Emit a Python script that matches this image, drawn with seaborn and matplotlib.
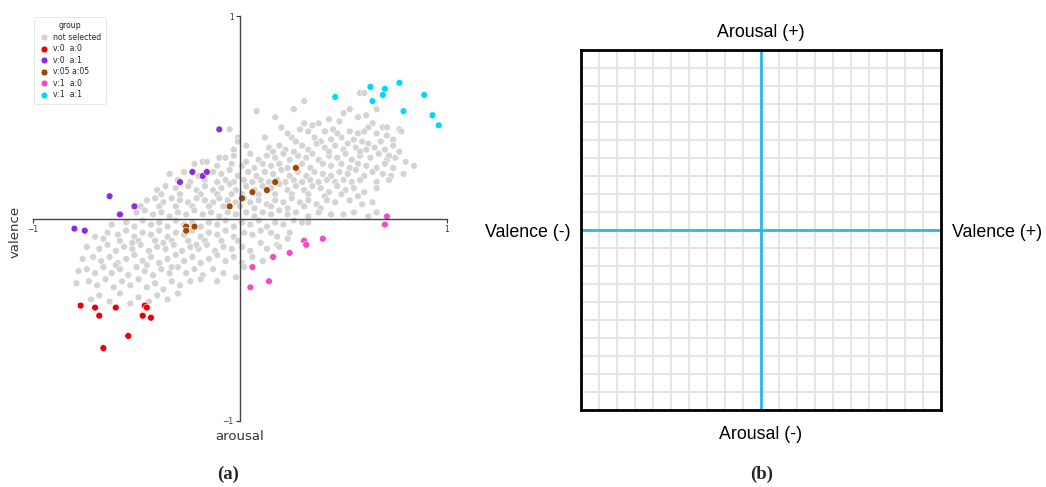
import matplotlib
matplotlib.use("Agg")
import matplotlib.pyplot as plt
import seaborn as sns
import pandas as pd

# (arousal, valence) pairs for each group
not_selected_high = [
    (0.58, 0.62), (0.60, 0.62), (0.31, 0.58), (0.26, 0.54), (0.08, 0.53), (0.53, 0.54),
    (0.66, 0.54), (0.50, 0.52), (0.57, 0.50), (0.61, 0.51), (0.17, 0.50), (0.43, 0.49),
    (0.20, 0.45), (0.31, 0.47), (0.35, 0.46), (0.38, 0.47), (0.48, 0.48), (0.64, 0.47),
    (0.69, 0.45), (0.71, 0.45), (0.62, 0.45), (0.77, 0.44), (0.78, 0.43), (-0.05, 0.44),
    (-0.01, 0.40), (0.29, 0.44), (0.33, 0.43), (0.41, 0.43), (0.45, 0.44), (0.53, 0.43),
    (0.57, 0.42), (0.66, 0.42), (0.71, 0.41), (0.74, 0.39), (0.12, 0.40), (0.25, 0.40),
    (0.27, 0.38), (0.36, 0.40), (0.39, 0.38), (0.44, 0.39), (0.49, 0.40), (0.52, 0.37),
    (0.55, 0.39), (0.59, 0.38), (0.62, 0.37), (0.68, 0.38), (0.03, 0.36), (0.14, 0.35),
    (0.19, 0.36), (0.22, 0.34), (0.30, 0.36), (0.33, 0.34), (0.41, 0.35), (0.46, 0.36),
    (0.50, 0.34), (0.56, 0.35), (0.61, 0.34), (0.65, 0.35), (0.70, 0.34), (0.74, 0.36),
    (0.77, 0.33), (-0.03, 0.34), (-0.01, 0.38), (-0.18, 0.28), (-0.10, 0.30),
    (-0.07, 0.30), (-0.03, 0.31), (0.05, 0.32), (0.09, 0.29), (0.13, 0.31), (0.17, 0.30),
    (0.21, 0.32), (0.24, 0.29), (0.28, 0.31), (0.32, 0.30), (0.35, 0.32), (0.38, 0.29),
    (0.43, 0.31), (0.47, 0.30), (0.51, 0.32), (0.54, 0.29), (0.58, 0.31), (0.63, 0.30),
    (0.67, 0.32), (0.71, 0.29), (0.75, 0.30), (0.80, 0.28), (-0.22, 0.27), (-0.16, 0.28),
    (-0.11, 0.26), (-0.04, 0.27), (0.01, 0.26), (0.03, 0.28), (0.07, 0.25), (0.11, 0.27),
    (0.15, 0.26), (0.19, 0.27), (0.23, 0.25), (0.30, 0.27), (0.34, 0.25), (0.40, 0.27),
    (0.44, 0.26), (0.49, 0.27), (0.53, 0.25), (0.57, 0.27), (0.61, 0.26), (0.66, 0.25),
    (0.70, 0.27), (0.74, 0.25), (0.84, 0.26), (0.23, 0.42), (0.47, 0.42), (0.60, 0.43),
    (0.37, 0.37), (0.16, 0.33), (0.26, 0.33), (0.43, 0.33), (0.58, 0.33), (0.72, 0.31),
]
not_selected_mid = [
    (-0.34, 0.22), (-0.27, 0.23), (-0.20, 0.21), (-0.13, 0.23), (-0.09, 0.22), (-0.05, 0.24),
    (-0.01, 0.21), (0.04, 0.23), (0.08, 0.21), (0.12, 0.23), (0.16, 0.22), (0.20, 0.24),
    (0.24, 0.21), (0.28, 0.23), (0.32, 0.21), (0.36, 0.23), (0.40, 0.22), (0.44, 0.21),
    (0.48, 0.23), (0.52, 0.22), (0.56, 0.24), (0.60, 0.21), (0.64, 0.23), (0.69, 0.22),
    (0.73, 0.21), (0.79, 0.22), (-0.30, 0.19), (-0.24, 0.18), (-0.17, 0.19), (-0.11, 0.18),
    (-0.07, 0.19), (-0.03, 0.18), (0.02, 0.19), (0.06, 0.18), (0.10, 0.19), (0.14, 0.18),
    (0.18, 0.19), (0.22, 0.18), (0.26, 0.19), (0.30, 0.18), (0.34, 0.19), (0.38, 0.18),
    (0.42, 0.19), (0.46, 0.18), (0.50, 0.19), (0.54, 0.18), (0.58, 0.19), (0.66, 0.18),
    (0.72, 0.19), (-0.40, 0.14), (-0.36, 0.16), (-0.31, 0.15), (-0.25, 0.16), (-0.21, 0.14),
    (-0.17, 0.16), (-0.13, 0.14), (-0.09, 0.15), (-0.05, 0.17), (-0.02, 0.14), (0.03, 0.16),
    (0.07, 0.14), (0.11, 0.16), (0.15, 0.15), (0.19, 0.17), (0.23, 0.14), (0.27, 0.16),
    (0.31, 0.14), (0.35, 0.16), (0.39, 0.15), (0.43, 0.13), (0.47, 0.16), (0.51, 0.14),
    (0.55, 0.15), (0.60, 0.13), (0.66, 0.15), (-0.38, 0.12), (-0.29, 0.12), (-0.19, 0.12),
    (-0.11, 0.12), (-0.04, 0.12), (0.01, 0.12), (0.09, 0.12), (0.17, 0.12), (0.25, 0.12),
    (0.33, 0.12), (0.41, 0.11), (0.49, 0.12), (0.57, 0.11), (-0.45, 0.09), (-0.41, 0.10),
    (-0.37, 0.08), (-0.33, 0.10), (-0.29, 0.09), (-0.25, 0.08), (-0.21, 0.10), (-0.17, 0.09),
    (-0.13, 0.08), (-0.10, 0.10), (-0.06, 0.09), (-0.02, 0.08), (0.02, 0.10), (0.05, 0.08),
    (0.09, 0.09), (0.13, 0.07), (0.17, 0.09), (0.21, 0.08), (0.25, 0.10), (0.29, 0.08),
    (0.33, 0.09), (0.37, 0.07), (0.42, 0.09), (0.46, 0.08), (0.53, 0.09), (0.59, 0.07),
    (0.64, 0.08), (-0.48, 0.06), (-0.39, 0.06), (-0.31, 0.06), (-0.23, 0.06), (-0.15, 0.06),
    (-0.08, 0.06), (0.00, 0.06), (0.07, 0.05), (0.15, 0.06), (0.23, 0.05), (0.31, 0.06),
    (0.39, 0.05), (-0.58, 0.02), (-0.50, 0.03), (-0.46, 0.04), (-0.42, 0.02), (-0.38, 0.03),
    (-0.34, 0.01), (-0.30, 0.03), (-0.26, 0.02), (-0.22, 0.04), (-0.18, 0.02), (-0.14, 0.03),
    (-0.10, 0.01), (-0.06, 0.03), (-0.02, 0.02), (0.03, 0.03), (0.07, 0.01), (0.11, 0.03),
    (0.15, 0.02), (0.19, 0.04), (0.23, 0.02), (0.27, 0.03), (0.33, 0.01), (0.38, 0.03),
    (0.44, 0.02), (0.50, 0.02), (0.55, 0.03), (0.62, 0.01), (0.66, 0.03),
]
not_selected_low = [
    (-0.62, -0.03), (-0.55, -0.02), (-0.51, -0.04), (-0.47, -0.01), (-0.43, -0.03),
    (-0.39, -0.02), (-0.35, -0.04), (-0.31, -0.01), (-0.27, -0.03), (-0.23, -0.02),
    (-0.19, -0.04), (-0.15, -0.02), (-0.11, -0.03), (-0.07, -0.01), (-0.03, -0.04),
    (0.01, -0.02), (0.05, -0.03), (0.09, -0.01), (0.13, -0.04), (0.17, -0.02), (0.21, -0.03),
    (0.26, -0.01), (0.30, -0.02), (0.33, -0.02), (-0.70, -0.09), (-0.64, -0.07),
    (-0.59, -0.08), (-0.55, -0.06), (-0.51, -0.09), (-0.47, -0.07), (-0.43, -0.08),
    (-0.39, -0.06), (-0.35, -0.09), (-0.31, -0.07), (-0.27, -0.08), (-0.23, -0.06),
    (-0.19, -0.09), (-0.15, -0.07), (-0.11, -0.08), (-0.07, -0.06), (-0.03, -0.09),
    (0.02, -0.07), (0.06, -0.08), (0.10, -0.06), (0.15, -0.07), (0.18, -0.09), (0.24, -0.07),
    (-0.66, -0.10), (-0.58, -0.11), (-0.49, -0.11), (-0.41, -0.11), (-0.33, -0.11),
    (-0.25, -0.11), (-0.17, -0.11), (-0.09, -0.11), (-0.01, -0.11), (0.10, -0.12),
    (0.18, -0.13), (0.23, -0.10), (-0.74, -0.14), (-0.68, -0.15), (-0.64, -0.13),
    (-0.60, -0.16), (-0.56, -0.14), (-0.52, -0.15), (-0.48, -0.13), (-0.44, -0.16),
    (-0.40, -0.14), (-0.36, -0.15), (-0.32, -0.13), (-0.28, -0.16), (-0.24, -0.14),
    (-0.20, -0.15), (-0.16, -0.13), (-0.12, -0.16), (-0.08, -0.14), (-0.04, -0.15),
    (0.01, -0.14), (0.05, -0.16), (0.13, -0.15), (0.19, -0.14), (-0.76, -0.20),
    (-0.71, -0.19), (-0.67, -0.21), (-0.63, -0.19), (-0.59, -0.22), (-0.55, -0.20),
    (-0.51, -0.18), (-0.47, -0.21), (-0.43, -0.19), (-0.39, -0.22), (-0.35, -0.20),
    (-0.31, -0.18), (-0.27, -0.21), (-0.23, -0.19), (-0.19, -0.22), (-0.15, -0.20),
    (-0.11, -0.18), (-0.07, -0.21), (-0.03, -0.19), (0.01, -0.22), (0.06, -0.19),
    (0.11, -0.21), (-0.78, -0.26), (-0.74, -0.25), (-0.70, -0.27), (-0.66, -0.24),
    (-0.62, -0.27), (-0.58, -0.25), (-0.54, -0.28), (-0.50, -0.24), (-0.46, -0.26),
    (-0.42, -0.28), (-0.38, -0.25), (-0.34, -0.27), (-0.30, -0.24), (-0.26, -0.27),
    (-0.22, -0.25), (-0.18, -0.28), (-0.13, -0.25), (-0.08, -0.27), (-0.02, -0.29),
    (0.02, -0.24), (-0.79, -0.32), (-0.73, -0.31), (-0.69, -0.33), (-0.65, -0.30),
    (-0.61, -0.34), (-0.57, -0.31), (-0.53, -0.33), (-0.49, -0.30), (-0.45, -0.34),
    (-0.41, -0.32), (-0.37, -0.35), (-0.33, -0.31), (-0.29, -0.33), (-0.24, -0.31),
    (-0.19, -0.30), (-0.11, -0.31), (-0.72, -0.40), (-0.68, -0.38), (-0.63, -0.41),
    (-0.58, -0.37), (-0.53, -0.42), (-0.49, -0.39), (-0.44, -0.41), (-0.40, -0.38),
    (-0.35, -0.40), (-0.30, -0.37), (-0.60, -0.23), (-0.45, -0.23), (-0.33, -0.24),
    (-0.52, -0.12), (-0.37, -0.12), (-0.21, -0.13),
]
v0_a0 = [
    (-0.77, -0.43), (-0.70, -0.44), (-0.60, -0.44), (-0.68, -0.48), (-0.46, -0.43),
    (-0.45, -0.44), (-0.47, -0.48), (-0.43, -0.49), (-0.54, -0.58), (-0.66, -0.64),
]
v0_a1 = [
    (-0.10, 0.44), (-0.23, 0.23), (-0.18, 0.21), (-0.16, 0.23), (-0.29, 0.18),
    (-0.63, 0.11), (-0.51, 0.06), (-0.58, 0.02), (-0.80, -0.05), (-0.75, -0.06),
]
v05_a05 = [
    (0.27, 0.25), (0.17, 0.18), (0.06, 0.13), (0.13, 0.14), (0.01, 0.10),
    (-0.05, 0.06), (-0.26, -0.04), (-0.22, -0.04), (-0.26, -0.06),
]
v1_a0 = [
    (0.71, 0.01), (0.70, -0.03), (0.31, -0.11), (0.40, -0.10), (0.32, -0.13),
    (0.24, -0.17), (0.16, -0.19), (0.06, -0.24), (0.14, -0.31), (0.05, -0.34),
]
v1_a1 = [
    (0.63, 0.65), (0.70, 0.64), (0.77, 0.67), (0.89, 0.61), (0.69, 0.61),
    (0.64, 0.58), (0.46, 0.60), (0.79, 0.53), (0.93, 0.51), (0.96, 0.46),
]

group_labels = ["not selected", "v:0  a:0", "v:0  a:1", "v:05 a:05", "v:1  a:0", "v:1  a:1"]
group_colors = ["#d3d3d3", "#e8000b", "#8b2be2", "#9f4800", "#f14cc1", "#00d7ff"]

grid_divisions = 20

groups = [not_selected_high + not_selected_mid + not_selected_low,
          v0_a0, v0_a1, v05_a05, v1_a0, v1_a1]
rows = []
for label, pts in zip(group_labels, groups):
    for a, v in pts:
        rows.append({"arousal": a, "valence": v, "group": label})
df = pd.DataFrame(rows)

sns.set_style("white")
plt.rcParams["font.family"] = ["DejaVu Sans"]

W, H = 1046, 487
fig = plt.figure(figsize=(W / 100, H / 100), dpi=100)

# ---- (a) scatter of the selection groups ----
ax = fig.add_axes([33 / W, 1 - 421 / H, 414 / W, 405 / H])
sns.scatterplot(data=df, x="arousal", y="valence", hue="group",
                hue_order=group_labels, palette=dict(zip(group_labels, group_colors)),
                s=24, edgecolor="white", linewidth=0.4, ax=ax)
ax.set_xlim(-1, 1)
ax.set_ylim(-1, 1)
for side in ("top", "right"):
    ax.spines[side].set_visible(False)
for side in ("left", "bottom"):
    ax.spines[side].set_position("zero")
    ax.spines[side].set_color("#444444")
    ax.spines[side].set_linewidth(1.0)
ax.set_xticks([-1, 1])
ax.set_yticks([-1, 1])
ax.tick_params(bottom=True, left=True, length=3, width=0.8, labelsize=5.5,
               colors="#333333", pad=1.5)
ax.set_xlabel("arousal", fontsize=9.5, color="#333333")
ax.set_ylabel("valence", fontsize=9.5, color="#333333")
ax.xaxis.set_label_coords(0.5, -0.022)
ax.yaxis.set_label_coords(-0.027, 0.467)
leg = ax.legend(loc="upper left", bbox_to_anchor=(0.0, 1.0), fontsize=5.6,
                title="group", title_fontsize=5.6, frameon=True, markerscale=1.0,
                handletextpad=0.4, labelspacing=0.32, borderpad=0.55,
                handlelength=1.5, borderaxespad=0.15)
leg.get_frame().set_edgecolor("#dddddd")
leg.get_frame().set_linewidth(0.6)

# ---- (b) valence / arousal grid ----
axb = fig.add_axes([581 / W, 1 - 410 / H, 360 / W, 360 / H])
axb.set_xlim(0, grid_divisions)
axb.set_ylim(0, grid_divisions)
axb.set_xticks(range(grid_divisions + 1))
axb.set_yticks(range(grid_divisions + 1))
axb.grid(True, color="#e3e3e7", linewidth=1.3)
axb.tick_params(length=0, labelbottom=False, labelleft=False)
axb.axvline(grid_divisions / 2, color="#2cb5e6", linewidth=2)
axb.axhline(grid_divisions / 2, color="#2cb5e6", linewidth=2)
for s in axb.spines.values():
    s.set_visible(True)
    s.set_color("black")
    s.set_linewidth(2)

lab_font = dict(family=["Liberation Sans", "DejaVu Sans"], fontsize=12.8, color="black")
axb.text(0.5, 1.05, "Arousal (+)", transform=axb.transAxes, ha="center", va="center", **lab_font)
axb.text(0.5, -0.067, "Arousal (-)", transform=axb.transAxes, ha="center", va="center", **lab_font)
axb.text(-0.03, 0.494, "Valence (-)", transform=axb.transAxes, ha="right", va="center", **lab_font)
axb.text(1.031, 0.494, "Valence (+)", transform=axb.transAxes, ha="left", va="center", **lab_font)

cap_font = dict(family=["Liberation Serif", "DejaVu Serif"], fontsize=13.5, fontweight="bold")
fig.text(228 / W, 1 - 474 / H, "(a)", ha="center", va="center", **cap_font)
fig.text(762 / W, 1 - 474 / H, "(b)", ha="center", va="center", **cap_font)

fig.savefig("out.png", dpi=100)
